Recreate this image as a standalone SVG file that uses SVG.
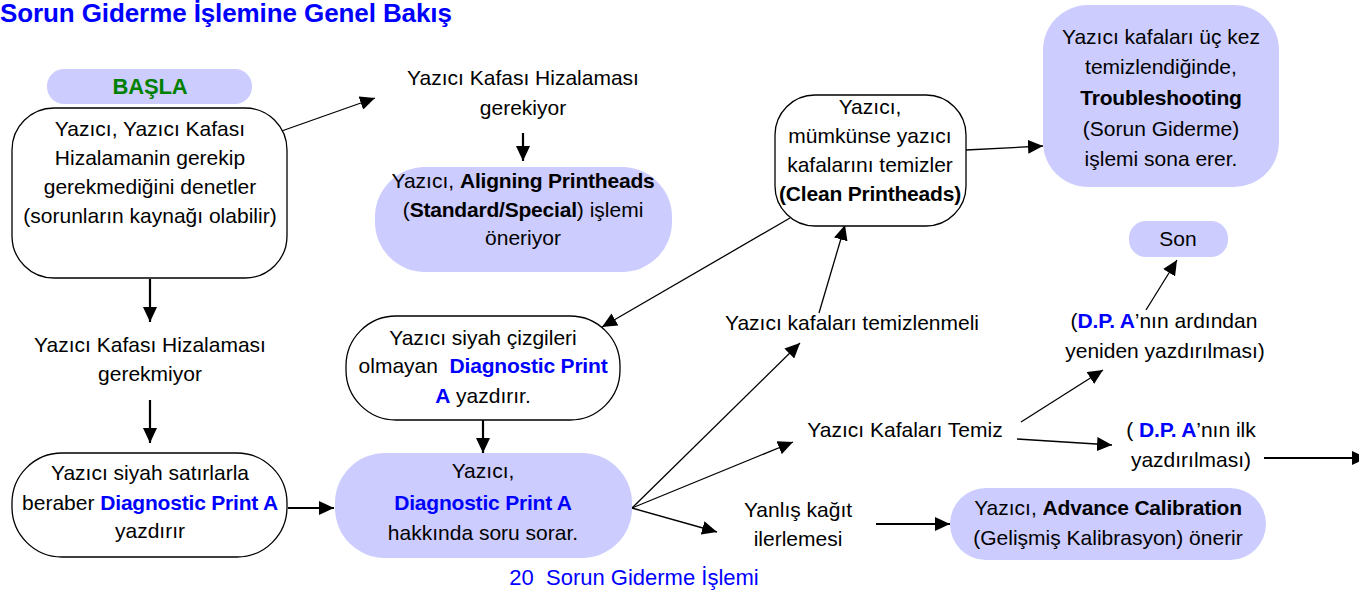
<svg xmlns="http://www.w3.org/2000/svg" width="1359" height="596" viewBox="0 0 1359 596">
<defs>
<marker id="ah" markerUnits="userSpaceOnUse" markerWidth="16" markerHeight="14" refX="15" refY="7" orient="auto">
<path d="M0,0 L15,7 L0,14 z" fill="#000"/>
</marker>
<style>
text{font-family:"Liberation Sans",Arial,sans-serif;font-size:21px;fill:#000;text-anchor:middle}
.b{font-weight:bold;letter-spacing:-0.2px}
.bl{fill:#0000ff;font-weight:bold;letter-spacing:-0.2px}
.title{font-size:26px;font-weight:bold;fill:#0000ff;text-anchor:start;letter-spacing:-0.1px}
.foot{fill:#0000ff;font-size:22px}
.pill{fill:#ccccff}
.box{fill:#fff;stroke:#000;stroke-width:1.3}
.c{stroke:#000;stroke-width:1.3;fill:none;marker-end:url(#ah)}
.ct{stroke-width:2.2}
</style>
</defs>
<rect width="1359" height="596" fill="#fff"/>
<text class="title" x="0" y="22">Sorun Giderme İşlemine Genel Bakış</text>

<g id="connectors">
<line class="c" x1="276" y1="133" x2="375" y2="98"/>
<line class="c ct" x1="523" y1="133" x2="523" y2="161"/>
<line class="c ct" x1="150" y1="279" x2="150" y2="322"/>
<line class="c ct" x1="150" y1="400" x2="150" y2="443"/>
<line class="c ct" x1="288" y1="508" x2="334" y2="508"/>
<line class="c ct" x1="483" y1="420" x2="483" y2="453"/>
<line class="c" x1="790" y1="218" x2="602" y2="327"/>
<line class="c" x1="819" y1="313" x2="845" y2="225"/>
<line class="c" x1="966" y1="150" x2="1043" y2="146"/>
<line class="c" x1="632" y1="508" x2="800" y2="343"/>
<line class="c" x1="632" y1="508" x2="793" y2="442"/>
<line class="c" x1="632" y1="508" x2="717" y2="532"/>
<line class="c ct" x1="876" y1="524" x2="950" y2="524"/>
<line class="c" x1="1021" y1="422" x2="1103" y2="370"/>
<line class="c" x1="1017" y1="439" x2="1112" y2="445"/>
<line class="c" x1="1146" y1="310" x2="1177" y2="260"/>
<line class="c ct" x1="1264" y1="458" x2="1367" y2="458"/>
</g>

<g id="start">
<rect class="pill" x="47" y="69" width="205" height="35" rx="17"/>
<text class="b" x="150" y="94" style="fill:#008000;font-size:22px">BAŞLA</text>
</g>

<g id="check">
<rect class="box" x="12" y="108" width="275" height="170" rx="42"/>
<text x="150" y="136">Yazıcı, Yazıcı Kafası</text>
<text x="150" y="165">Hizalamanin gerekip</text>
<text x="150" y="194">gerekmediğini denetler</text>
<text x="150" y="223">(sorunların kaynağı olabilir)</text>
</g>

<g id="align-needed">
<text x="523" y="85">Yazıcı Kafası Hizalaması</text>
<text x="523" y="115">gerekiyor</text>
</g>

<g id="align">
<rect class="pill" x="375" y="167" width="297" height="105" rx="50"/>
<text x="523" y="188">Yazıcı, <tspan class="b">Aligning Printheads</tspan></text>
<text x="523" y="217">(<tspan class="b">Standard/Special</tspan>) işlemi</text>
<text x="523" y="245">öneriyor</text>
</g>

<g id="no-align">
<text x="150" y="352">Yazıcı Kafası Hizalaması</text>
<text x="150" y="381">gerekmiyor</text>
</g>

<g id="print-black">
<rect class="box" x="12" y="453" width="275" height="104" rx="50"/>
<text x="150" y="480">Yazıcı siyah satırlarla</text>
<text x="150" y="510">beraber <tspan class="bl">Diagnostic Print A</tspan></text>
<text x="150" y="538">yazdırır</text>
</g>

<g id="print-noblack">
<rect class="box" x="346" y="316" width="274" height="104" rx="50"/>
<text x="483" y="345">Yazıcı siyah çizgileri</text>
<text x="483" y="373">olmayan&#160; <tspan class="bl">Diagnostic Print</tspan></text>
<text x="483" y="403"><tspan class="bl">A</tspan> yazdırır.</text>
</g>

<g id="ask">
<rect class="pill" x="335" y="453" width="297" height="105" rx="50"/>
<text x="483" y="478">Yazıcı,</text>
<text x="483" y="510" class="bl">Diagnostic Print A</text>
<text x="483" y="540">hakkında soru sorar.</text>
</g>

<g id="clean">
<rect class="box" x="775" y="95" width="191" height="131" rx="40"/>
<text x="870" y="114">Yazıcı,</text>
<text x="870" y="143">mümkünse yazıcı</text>
<text x="870" y="172">kafalarını temizler</text>
<text x="870" y="201" class="b">(Clean Printheads)</text>
</g>

<g id="end-troubleshooting">
<rect class="pill" x="1043" y="5" width="236" height="182" rx="45"/>
<text x="1161" y="44">Yazıcı kafaları üç kez</text>
<text x="1161" y="74">temizlendiğinde,</text>
<text x="1161" y="105" class="b">Troubleshooting</text>
<text x="1161" y="136">(Sorun Giderme)</text>
<text x="1161" y="166">işlemi sona erer.</text>
</g>

<g id="son">
<rect class="pill" x="1129" y="221" width="99" height="36" rx="17"/>
<text x="1178" y="246">Son</text>
</g>

<g id="should-clean">
<text x="852" y="330">Yazıcı kafaları temizlenmeli</text>
</g>

<g id="clean-ok">
<text x="905" y="437">Yazıcı Kafaları Temiz</text>
</g>

<g id="reprint">
<text x="1164" y="328">(<tspan class="bl">D.P. A</tspan>’nın ardından</text>
<text x="1165" y="358">yeniden yazdırılması)</text>
</g>

<g id="first-print">
<text x="1191" y="437">( <tspan class="bl">D.P. A</tspan>’nın ilk</text>
<text x="1191" y="467">yazdırılması)</text>
</g>

<g id="feed">
<text x="798" y="517">Yanlış kağıt</text>
<text x="798" y="546">ilerlemesi</text>
</g>

<g id="calibration">
<rect class="pill" x="950" y="488" width="316" height="72" rx="36"/>
<text x="1108" y="515">Yazıcı, <tspan class="b">Advance Calibration</tspan></text>
<text x="1108" y="545">(Gelişmiş Kalibrasyon) önerir</text>
</g>

<text class="foot" x="634" y="585">20&#160; Sorun Giderme İşlemi</text>
</svg>
